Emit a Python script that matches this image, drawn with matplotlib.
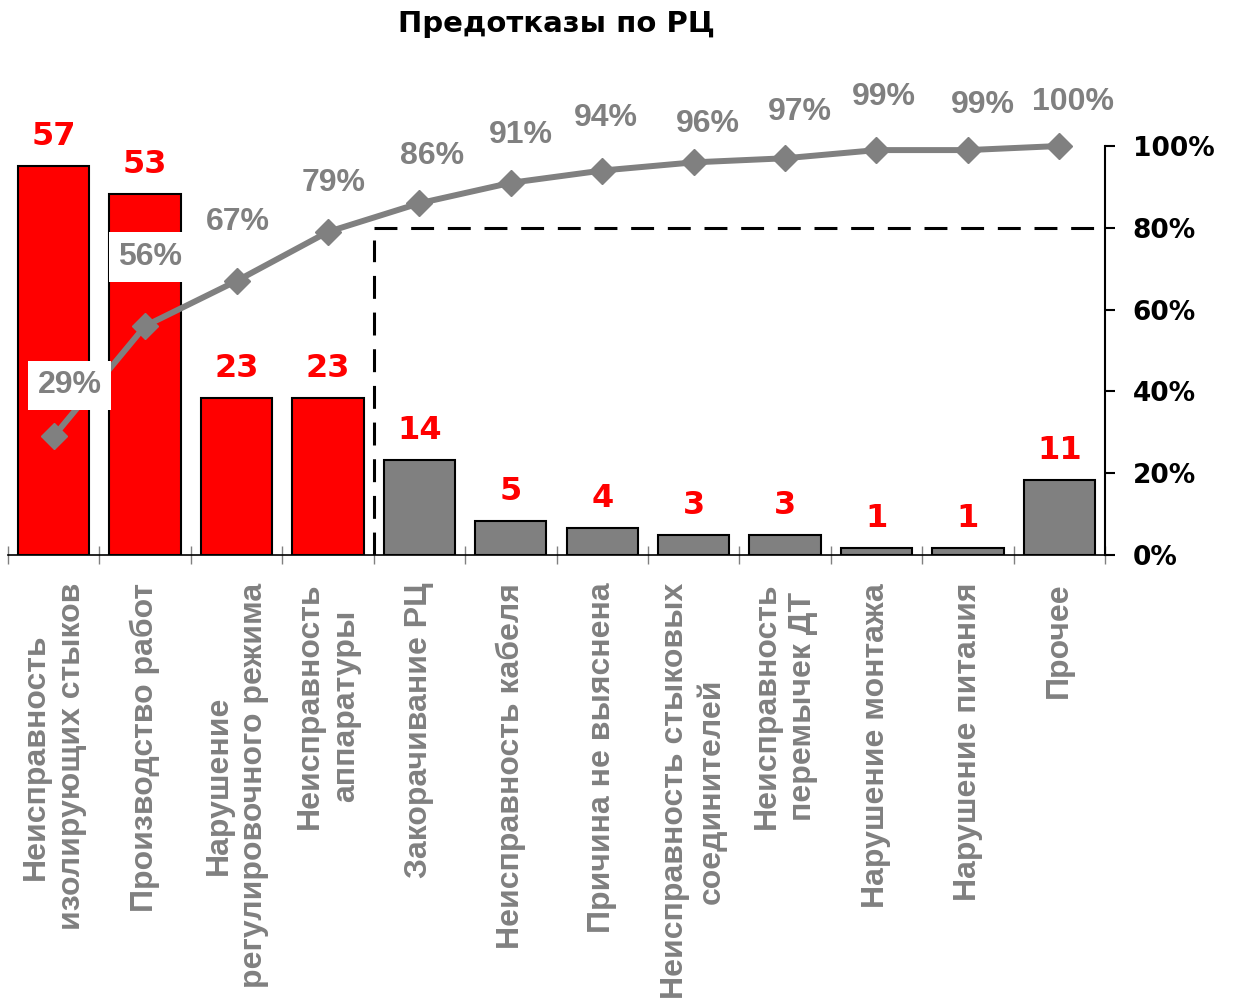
import numpy as np
from matplotlib import pyplot as plt

categories = ['Неисправность\nизолирующих стыков', 'Производство работ',
              'Нарушение\nрегулировочного режима', 'Неисправность\nаппаратуры',
              'Закорачивание РЦ', 'Неисправность кабеля', 'Причина не выяснена',
              'Неисправность стыковых\nсоединителей', 'Неисправность\nперемычек ДТ',
              'Нарушение монтажа', 'Нарушение питания', 'Прочее']
counts = [57, 53, 23, 23, 14, 5, 4, 3, 3, 1, 1, 11]
cum_pct = [29, 56, 67, 79, 86, 91, 94, 96, 97, 99, 99, 100]
n_top = 4  # первые причины (красные), дающие ~80%

RED = '#ff0000'
GRAY = '#808080'
WIDE = 'DejaVu Sans'
ARIAL = 'Liberation Sans'

# сдвиги подписей процентов относительно маркеров (в пикселях)
lab_dx = [16, 5, 1, 6, 13, 10, 4, 14, 15, 7, 15, 14]
lab_dy = [51, 69, 59, 49, 47, 48, 53, 38, 46, 53, 45, 44]

x = np.arange(len(counts))
colors = [RED if i < n_top else GRAY for i in x]

fig = plt.figure(figsize=(12.35, 9.99), dpi=100)
ax = fig.add_axes([8/1235, 1-555/999, 1097/1235, 409/999])
ax.bar(x, counts, width=0.78, color=colors, edgecolor='black', linewidth=1.5, zorder=2)
ax.set_xlim(-0.5, len(counts)-0.5)
ax.set_ylim(0, 60)

for xi, c in zip(x, counts):
    ax.annotate(str(c), (xi, c), xytext=(0, 14), textcoords='offset pixels',
                ha='center', va='bottom', color=RED, fontsize=23,
                fontweight='bold', family=WIDE, annotation_clip=False)

for s in ['left', 'top', 'right']:
    ax.spines[s].set_visible(False)
ax.spines['bottom'].set_linewidth(1.2)
ax.set_yticks([])
ax.set_xticks(x, categories, rotation=90, fontsize=23, fontweight='bold',
              family=ARIAL, color=GRAY, linespacing=1.25)
for t in ax.get_xticklabels():
    t.set_multialignment('center')
ax.tick_params(axis='x', which='major', length=0, pad=20)
ax.set_xticks(np.arange(-0.5, len(counts)), minor=True)
ax.tick_params(axis='x', which='minor', direction='inout', length=13,
               width=1, color=GRAY)

ax2 = ax.twinx()
ax2.set_ylim(0, 1)
for s in ['left', 'top', 'bottom']:
    ax2.spines[s].set_visible(False)
ax2.spines['right'].set_linewidth(1.5)
ax2.set_yticks([0, 0.2, 0.4, 0.6, 0.8, 1.0], ['0%', '20%', '40%', '60%', '80%', '100%'])
ax2.tick_params(axis='y', length=7, width=1.5, pad=13, labelsize=19)
for t in ax2.get_yticklabels():
    t.set_fontweight('bold')
    t.set_family(WIDE)

pct = np.array(cum_pct) / 100
ax2.plot(x, pct, color=GRAY, lw=4.3, marker='D', ms=13, zorder=3, clip_on=False)

# граница 80%
b = n_top - 0.5
ax2.plot([b, b], [0, 0.77], color='black', lw=2.2, ls=(0, (7.5, 4.5)), zorder=2)
ax2.plot([b, len(counts)-0.55], [0.8, 0.8], color='black', lw=2.2, ls=(0, (7.5, 4.5)), zorder=2)

for i, (xi, p) in enumerate(zip(x, pct)):
    box = dict(facecolor='white', edgecolor='none', pad=7) if i < 2 else None
    ax2.annotate(f'{cum_pct[i]}%', (xi, p), xytext=(lab_dx[i], lab_dy[i]),
                 textcoords='offset pixels', ha='center', va='center',
                 color=GRAY, fontsize=23, fontweight='bold', family=ARIAL,
                 bbox=box, zorder=5, annotation_clip=False)

fig.text((8+1105)/2/1235, 1-24/999, 'Предотказы по РЦ', fontsize=21,
         fontweight='bold', family=WIDE, ha='center', va='center')

fig.savefig('out.png', dpi=100)
